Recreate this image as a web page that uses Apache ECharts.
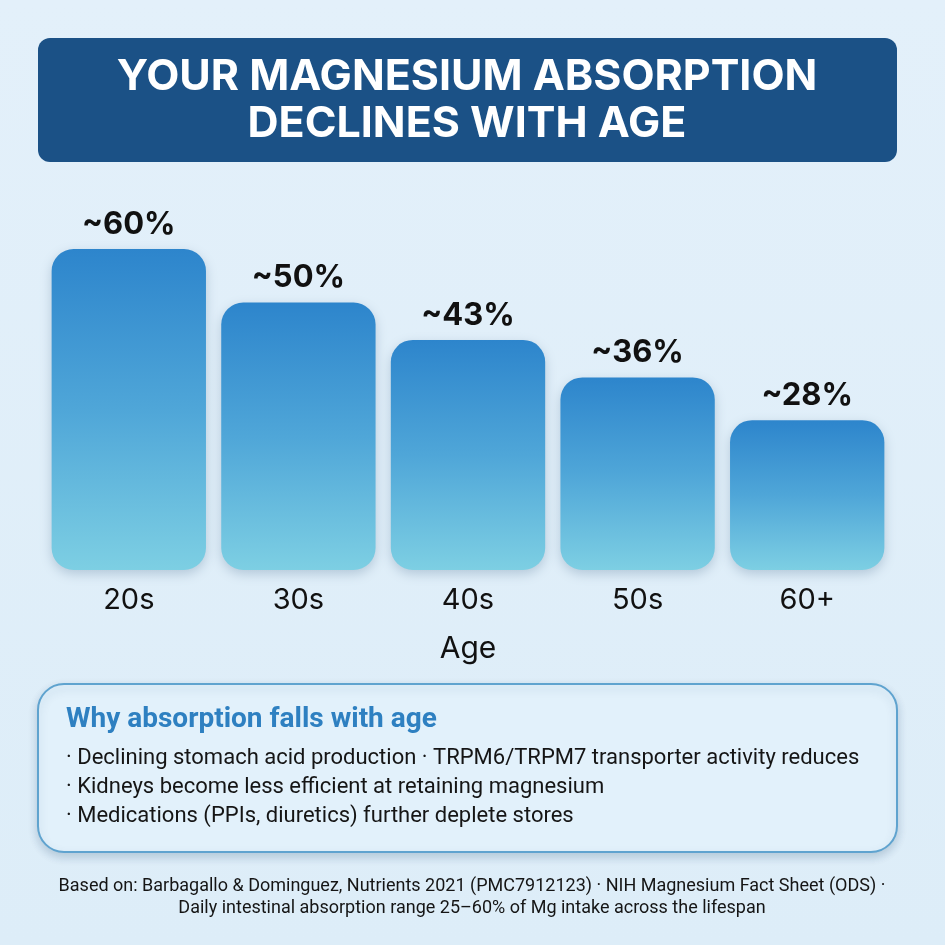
<!DOCTYPE html>
<html>
<head>
<meta charset="utf-8">
<script src="https://cdn.jsdelivr.net/npm/echarts@6/dist/echarts.min.js"></script>
<style>
  html, body { margin: 0; padding: 0; }
  #chart { width: 945px; height: 945px; }
</style>
</head>
<body>
<div id="chart"></div>
<script>
// data
const ageGroups = ["20s", "30s", "40s", "50s", "60+"];
const absorption = [60, 50, 43, 36, 28];
const titleLines = ["YOUR MAGNESIUM ABSORPTION", "DECLINES WITH AGE"];
const infoHeading = "Why absorption falls with age";
const infoLines = [
  "· Declining stomach acid production · TRPM6/TRPM7 transporter activity reduces",
  "· Kidneys become less efficient at retaining magnesium",
  "· Medications (PPIs, diuretics) further deplete stores"
];
const footerLines = [
  "Based on: Barbagallo & Dominguez, Nutrients 2021 (PMC7912123) · NIH Magnesium Fact Sheet (ODS) ·",
  "Daily intestinal absorption range 25–60% of Mg intake across the lifespan"
];

const chart = echarts.init(document.getElementById("chart"));

const barColor = new echarts.graphic.LinearGradient(0, 0, 0, 1, [
  { offset: 0, color: "#2d85cc" },
  { offset: 0.5, color: "#4fa6d8" },
  { offset: 1, color: "#7dcfe3" }
]);

const option = {
  backgroundColor: new echarts.graphic.LinearGradient(0, 0, 0, 1, [
    { offset: 0, color: "#e3f0fa" },
    { offset: 1, color: "#ddedf8" }
  ]),
  grid: { left: 44, right: 53, top: 249, bottom: 375, containLabel: false },
  xAxis: {
    type: "category",
    data: ageGroups,
    name: "Age",
    nameLocation: "middle",
    nameGap: 64,
    nameTextStyle: { fontFamily: "Inter", fontSize: 30, color: "#111" },
    axisLine: { show: false },
    axisTick: { show: false },
    axisLabel: { fontFamily: "Inter", fontSize: 29, color: "#111", margin: 16 }
  },
  yAxis: {
    type: "value",
    min: 0,
    max: 60,
    show: false
  },
  series: [
    {
      type: "bar",
      data: absorption,
      barWidth: "91%",
      itemStyle: {
        color: barColor,
        borderRadius: 22,
        shadowBlur: 12,
        shadowOffsetY: 4,
        shadowColor: "rgba(20, 60, 100, 0.22)"
      },
      label: {
        show: true,
        position: "top",
        distance: 9,
        formatter: (p) => "~" + p.value + "%",
        fontFamily: "Inter",
        fontWeight: "bold",
        fontSize: 31,
        color: "#111"
      }
    }
  ],
  graphic: [
    {
      type: "rect",
      shape: { x: 38, y: 38, width: 859, height: 124, r: 12 },
      style: { fill: "#1b5186" }
    },
    {
      type: "text",
      x: 467, y: 77,
      style: {
        text: titleLines[0], fill: "#fff", align: "center", verticalAlign: "middle",
        font: "bold 43px Inter"
      }
    },
    {
      type: "text",
      x: 467, y: 124,
      style: {
        text: titleLines[1], fill: "#fff", align: "center", verticalAlign: "middle",
        font: "bold 43px Inter"
      }
    },
    {
      type: "rect",
      shape: { x: 38, y: 684, width: 859, height: 168, r: 26 },
      style: {
        fill: "#e2f1fb", stroke: "#5fa3cf", lineWidth: 2,
        shadowBlur: 10, shadowOffsetY: 4, shadowColor: "rgba(20, 60, 100, 0.2)"
      }
    },
    {
      type: "text",
      x: 66, y: 720,
      style: {
        text: infoHeading, fill: "#2e80c1", verticalAlign: "middle",
        font: "bold 28px Roboto"
      }
    },
    ...infoLines.map((t, i) => ({
      type: "text",
      x: 66, y: 758 + i * 29,
      style: { text: t, fill: "#151515", verticalAlign: "middle", font: "22px Roboto" }
    })),
    ...footerLines.map((t, i) => ({
      type: "text",
      x: 472, y: 886 + i * 22,
      style: { text: t, fill: "#151515", align: "center", verticalAlign: "middle", font: "18px Roboto" }
    }))
  ]
};

chart.setOption(option);
</script>
</body>
</html>
